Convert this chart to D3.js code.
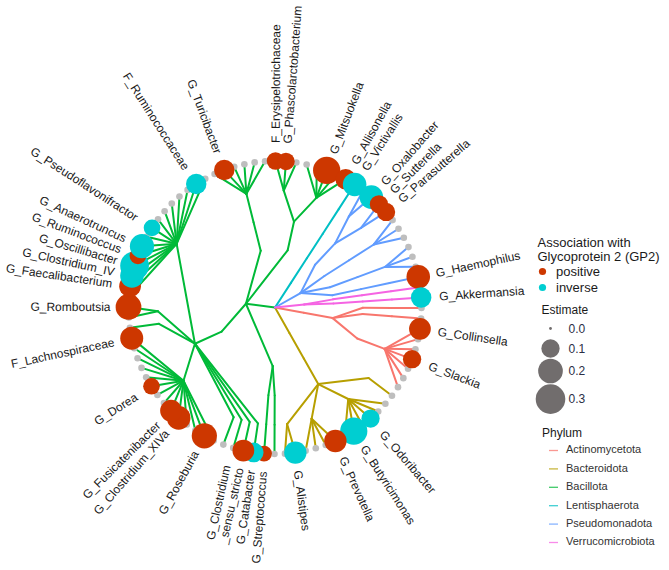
<!DOCTYPE html>
<html>
<head>
<meta charset="utf-8">
<script src="https://cdn.jsdelivr.net/npm/d3@7"></script>
<style>
  body { margin: 0; background: #fff; }
  svg { display: block; font-family: "Liberation Sans", Arial, sans-serif; }
</style>
</head>
<body>
<svg width="669" height="570"></svg>
<script>
const phyla = ['Actinomycetota', 'Bacteroidota', 'Bacillota', 'Lentisphaerota', 'Pseudomonadota', 'Verrucomicrobiota'];
const phylumColors = ['#F8766D', '#B79F00', '#00BA38', '#00BFC4', '#619CFF', '#F564E3'];

const associations = ['positive', 'inverse'];
const associationColors = ['#CD3700', '#00CED1'];
const sizeBreaks = [0, 0.1, 0.2, 0.3];

// clades (phylum/class/order/family) in tip order, clockwise from 3 o'clock,
// and how many tips hang off each of them
const cladeLineage = [
  'Actinomycetota/Actinomycetia/Bifidobacteriales/Bifidobacteriaceae',
  'Actinomycetota/Actinomycetia/Actinomycetales/Actinomycetaceae',
  'Actinomycetota/Actinomycetia/Coriobacteriales/Coriobacteriaceae',
  'Bacteroidota/Bacteroidia/Bacteroidales/Bacteroidaceae',
  'Bacteroidota/Bacteroidia/Bacteroidales/Odoribacteraceae',
  'Bacteroidota/Bacteroidia/Bacteroidales/Prevotellaceae',
  'Bacteroidota/Bacteroidia/Bacteroidales/Rikenellaceae',
  'Bacillota/Bacilli/Bacillales/Staphylococcaceae',
  'Bacillota/Bacilli/Lactobacillales/Streptococcaceae',
  'Bacillota/Clostridia/Eubacteriales/Catabacteriaceae',
  'Bacillota/Clostridia/Eubacteriales/Clostridiaceae',
  'Bacillota/Clostridia/Eubacteriales/Eubacteriaceae',
  'Bacillota/Clostridia/Eubacteriales/Christensenellaceae',
  'Bacillota/Clostridia/Eubacteriales/Lachnospiraceae',
  'Bacillota/Clostridia/Eubacteriales/Peptococcaceae',
  'Bacillota/Clostridia/Eubacteriales/Peptostreptococcaceae',
  'Bacillota/Clostridia/Eubacteriales/Ruminococcaceae',
  'Bacillota/Erysipelotrichia/Erysipelotrichales/Turicibacteraceae',
  'Bacillota/Negativicutes/Veillonellales/Acidaminococcaceae',
  'Bacillota/Negativicutes/Veillonellales/Veillonellaceae',
  'Lentisphaerota/Lentisphaeria/Victivallales/Victivallaceae',
  'Pseudomonadota/Betaproteobacteria/Burkholderiales/Oxalobacteraceae',
  'Pseudomonadota/Betaproteobacteria/Burkholderiales/Sutterellaceae',
  'Pseudomonadota/Alphaproteobacteria/Rhodospirillales/Rhodospirillaceae',
  'Pseudomonadota/Deltaproteobacteria/Desulfovibrionales/Desulfovibrionaceae',
  'Pseudomonadota/Gammaproteobacteria/Pasteurellales/Pasteurellaceae',
  'Verrucomicrobiota/Opitutae/Opitutales/Opitutaceae',
  'Verrucomicrobiota/Verrucomicrobiae/Verrucomicrobiales/Akkermansiaceae'
];
const cladeTips = [1, 1, 7, 1, 6, 4, 2, 1, 1, 1, 1, 1, 1, 14, 1, 2, 15, 6, 3, 5, 1, 2, 2, 3, 3, 1, 1, 1];

const tipLabel = [
  null, null, 'G_Collinsella', null, null, 'G_Slackia', null, null, null,
  null, null, null, 'G_Odoribacter', null, 'G_Butyricimonas', null, 'G_Prevotella', null, null, null, 'G_Alistipes', null,
  null, 'G_Streptococcus', 'G_Catabacter', 'G_Clostridium\n_sensu_stricto', null, null, null, 'G_Roseburia',
  null, null, 'G_Clostridium_XIVa', 'G_Fusicatenibacter', null, null, 'G_Dorea', null, null, null,
  null, 'F_Lachnospiraceae', null, null, 'G_Romboutsia', null, 'G_Faecalibacterium', 'G_Clostridium_IV', 'G_Oscillibacter', 'G_Ruminococcus',
  'G_Anaerotruncus', null, 'G_Pseudoflavonifractor', null, null, null, null, null, 'F_Ruminococcaceae', null,
  null, 'G_Turicibacter', null, null, null, null, 'F_Erysipelotrichaceae', 'G_Phascolarctobacterium', null, null,
  null, 'G_Mitsuokella', null, 'G_Allisonella', 'G_Victivallis', null, 'G_Oxalobacter', 'G_Sutterella', 'G_Parasutterella', null,
  null, null, null, null, null, 'G_Haemophilus', null, 'G_Akkermansia'
];

// association estimate, negative = inverse, null = not significant
const tipEstimate = [
  null, null, 0.15, null, null, 0.10, null, null, null,
  null, null, null, -0.10, null, -0.25, null, 0.16, null, null, null, -0.16, null,
  null, 0.07, -0.12, 0.15, null, null, null, 0.21,
  null, null, 0.18, 0.15, null, null, 0.08, null, null, null,
  null, 0.17, null, null, 0.22, null, 0.15, -0.18, -0.28, 0.08,
  -0.19, null, -0.08, null, null, null, null, null, -0.13, null,
  null, 0.13, null, null, null, null, 0.09, 0.09, null, null,
  null, 0.25, null, 0.13, -0.18, null, -0.18, 0.10, 0.10, null,
  null, null, null, null, null, 0.18, null, -0.13
];

const svg = d3.select('svg');
const cx = 275, cy = 307.5, R = 146.5, labelGap = 18;

// build the table for stratify
const tipLineage = [];
cladeLineage.forEach((lin, k) => {
  for (let j = 0; j < cladeTips[k]; j++) tipLineage.push(lin);
});

const rows = [{ id: 'root', parent: null }];
const seen = new Set(['root']);
tipLineage.forEach((lin, i) => {
  const parts = lin.split('/');
  let parent = 'root';
  parts.forEach((p, d) => {
    const id = parts.slice(0, d + 1).join('/');
    if (!seen.has(id)) {
      seen.add(id);
      rows.push({ id: id, parent: parent, phylum: parts[0] });
    }
    parent = id;
  });
  rows.push({ id: 'tip' + i, parent: parent, phylum: parts[0], label: tipLabel[i], estimate: tipEstimate[i] });
});

const root = d3.stratify().id(d => d.id).parentId(d => d.parent)(rows);
d3.cluster().size([360, R]).separation(() => 1)(root);
// parent sits midway between its first and last child (like ggtree)
root.eachAfter(n => {
  if (n.children) n.x = (n.children[0].x + n.children[n.children.length - 1].x) / 2;
});

const n = root.leaves().length;
const rot = 0.2 - 180 / n;
const angle = d3.scaleLinear().domain([0, 360]).range([rot, rot + 360]);
const rad = a => a * Math.PI / 180;
const px = (x, r) => cx + r * Math.cos(rad(angle(x)));
const py = (x, r) => cy + r * Math.sin(rad(angle(x)));

const color = d3.scaleOrdinal(phyla, phylumColors);
const size = d3.scaleSqrt().domain([0, 0.3]).range([1.4, 14.8]);

// branches
svg.append('g')
  .selectAll('line')
  .data(root.links())
  .join('line')
    .attr('x1', d => px(d.source.x, d.source.y))
    .attr('y1', d => py(d.source.x, d.source.y))
    .attr('x2', d => px(d.target.x, d.target.y))
    .attr('y2', d => py(d.target.x, d.target.y))
    .attr('stroke', d => color(d.target.data.phylum))
    .attr('stroke-width', 2)
    .attr('stroke-linecap', 'round');

const leaves = root.leaves();

svg.append('g')
  .selectAll('circle')
  .data(leaves.filter(d => d.data.estimate == null))
  .join('circle')
    .attr('cx', d => px(d.x, d.y))
    .attr('cy', d => py(d.x, d.y))
    .attr('r', 3.3)
    .attr('fill', '#BEBEBE');

svg.append('g')
  .selectAll('circle')
  .data(leaves.filter(d => d.data.estimate != null))
  .join('circle')
    .attr('cx', d => px(d.x, d.y))
    .attr('cy', d => py(d.x, d.y))
    .attr('r', d => size(Math.abs(d.data.estimate)))
    .attr('fill', d => d.data.estimate > 0 ? associationColors[0] : associationColors[1]);

// tip labels
svg.append('g')
  .selectAll('text')
  .data(leaves.filter(d => d.data.label))
  .join('text')
    .attr('font-size', 12)
    .attr('fill', '#1a1a1a')
    .each(function(d) {
      const deg = ((angle(d.x) % 360) + 360) % 360;
      const flip = deg > 90 && deg < 270;
      const r = R + labelGap;
      const t = d3.select(this)
        .attr('transform', `translate(${px(d.x, r)},${py(d.x, r)}) rotate(${flip ? deg - 180 : deg})`)
        .attr('text-anchor', flip ? 'end' : 'start');
      // wrapped labels: last line sits on the tip
      const lines = d.data.label.split('\n');
      lines.forEach((s, k) => {
        t.append('tspan')
          .attr('x', 0)
          .attr('dy', k === 0 ? (0.35 - (lines.length - 1) * 1.1) + 'em' : '1.1em')
          .text(s);
      });
    });

// legends
const lg = svg.append('g').attr('fill', '#1a1a1a');

lg.append('text').attr('x', 537.5).attr('y', 246.5).attr('font-size', 13).text('Association with');
lg.append('text').attr('x', 537.5).attr('y', 260.5).attr('font-size', 13).text('Glycoprotein 2 (GP2)');

const assocY = d3.scalePoint().domain(associations).range([271.5, 287.5]);
associations.forEach((a, k) => {
  lg.append('circle').attr('cx', 542.5).attr('cy', assocY(a)).attr('r', 3.6).attr('fill', associationColors[k]);
  lg.append('text').attr('x', 556).attr('y', assocY(a)).attr('dy', '0.35em').attr('font-size', 13).text(a);
});

lg.append('text').attr('x', 541.5).attr('y', 314).attr('font-size', 12).text('Estimate');
let sy = 328.5;
sizeBreaks.forEach((b, k) => {
  if (k > 0) sy += Math.max(20, size(sizeBreaks[k - 1]) + size(b) + 1);
  lg.append('circle').attr('cx', 550.5).attr('cy', sy).attr('r', size(b)).attr('fill', '#716d6d');
  lg.append('text').attr('x', 568.5).attr('y', sy).attr('dy', '0.35em').attr('font-size', 12)
    .attr('fill', '#2b2f45').text(d3.format('.1f')(b));
});

lg.append('text').attr('x', 542).attr('y', 437).attr('font-size', 12).text('Phylum');
const phylumY = d3.scalePoint().domain(phyla).range([449.5, 541.5]);
phyla.forEach((p, k) => {
  lg.append('line')
    .attr('x1', 549).attr('x2', 558)
    .attr('y1', phylumY(p) + 1).attr('y2', phylumY(p) + 1)
    .attr('stroke', phylumColors[k]).attr('stroke-width', 1.3).attr('stroke-opacity', 0.75);
  lg.append('text').attr('x', 566).attr('y', phylumY(p)).attr('dy', '0.35em')
    .attr('font-size', 11).attr('fill', '#333').text(p);
});
</script>
</body>
</html>
